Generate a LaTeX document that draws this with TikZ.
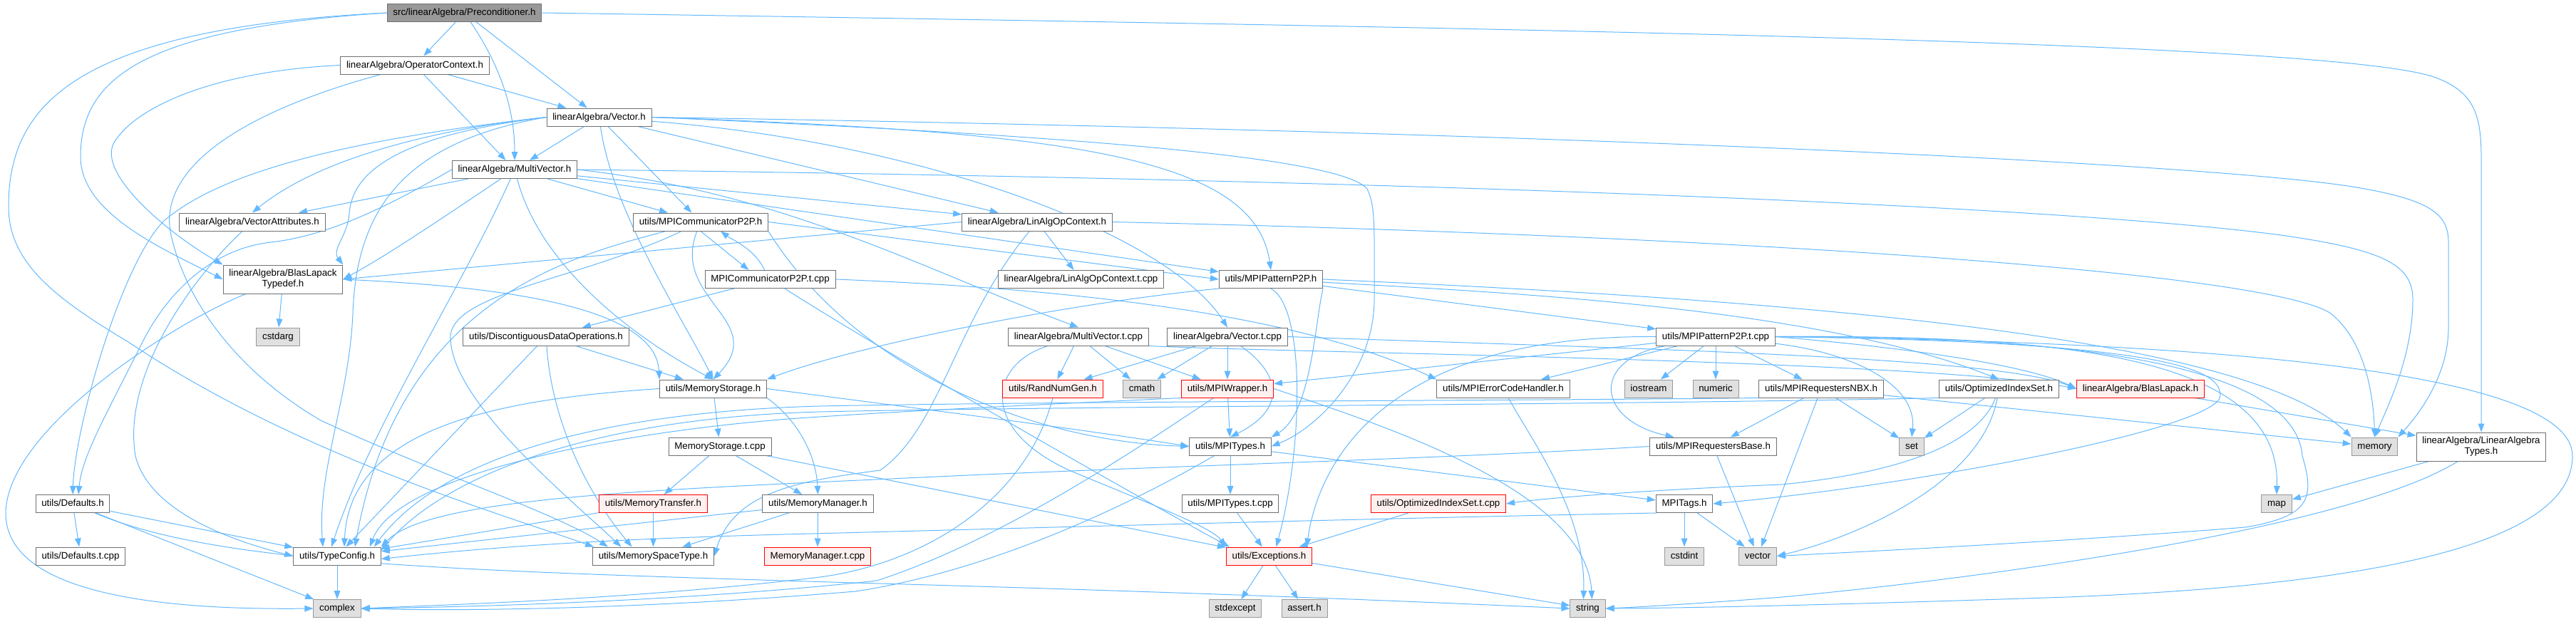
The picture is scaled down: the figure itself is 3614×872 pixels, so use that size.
\documentclass[tikz,border=0pt]{standalone}
\usepackage{fontspec}
\setmainfont{Liberation Sans}
\usetikzlibrary{arrows.meta,calc}
\pgfdeclarelayer{back}
\pgfsetlayers{back,main}
\definecolor{inclBlue}{RGB}{99,184,255}
\definecolor{boxFrame}{RGB}{112,112,112}
\definecolor{rootFill}{RGB}{153,153,153}
\definecolor{sysFill}{RGB}{224,224,224}
\definecolor{sysFrame}{RGB}{153,153,153}
\definecolor{cutFill}{RGB}{255,240,240}
\definecolor{cutFrame}{RGB}{255,0,0}

\begin{document}
\begin{tikzpicture}[x=0.75pt,y=-0.75pt,
  boxBase/.style={draw=boxFrame,fill=white,line width=0.75pt,inner xsep=6.2pt,inner ysep=0pt,font=\fontsize{10}{11.3}\selectfont},
  fileBox/.style={boxBase,minimum height=18.75pt,text height=7.4pt,text depth=2.1pt},
  twoLine/.style={boxBase,align=center,minimum height=30pt},
  rootBox/.style={fileBox,fill=rootFill},
  sysBox/.style={fileBox,fill=sysFill,draw=sysFrame},
  cutBox/.style={fileBox,fill=cutFill,draw=cutFrame},
  incl/.style={draw=inclBlue,line width=0.75pt,-{Triangle[length=9pt,width=6.5pt]}}]
\useasboundingbox (0,0) rectangle (3614,872);
\node[rootBox] (precond) at (651.5,18) {src/linearAlgebra/Preconditioner.h};
\node[fileBox] (opCtx) at (582,91.5) {linearAlgebra/OperatorContext.h};
\node[fileBox] (vec) at (840.5,164.5) {linearAlgebra/Vector.h};
\node[fileBox] (mvec) at (722,238) {linearAlgebra/MultiVector.h};
\node[fileBox] (vecAttr) at (354,311.5) {linearAlgebra/VectorAttributes.h};
\node[twoLine] (blasTypedef) at (397,392) {linearAlgebra/BlasLapack\\Typedef.h};
\node[fileBox] (commP2P) at (983,311.5) {utils/MPICommunicatorP2P.h};
\node[fileBox] (commP2Pt) at (1080.5,392) {MPICommunicatorP2P.t.cpp};
\node[fileBox] (linOpCtx) at (1455,311.5) {linearAlgebra/LinAlgOpContext.h};
\node[fileBox] (linOpCtxT) at (1516.5,392) {linearAlgebra/LinAlgOpContext.t.cpp};
\node[fileBox] (patP2P) at (1783,392) {utils/MPIPatternP2P.h};
\node[sysBox] (cstdarg) at (390,472.5) {cstdarg};
\node[fileBox] (discOps) at (766,472.5) {utils/DiscontiguousDataOperations.h};
\node[fileBox] (mvecT) at (1513,472.5) {linearAlgebra/MultiVector.t.cpp};
\node[fileBox] (vecT) at (1722,472.5) {linearAlgebra/Vector.t.cpp};
\node[fileBox] (patP2Pt) at (2407,472.5) {utils/MPIPatternP2P.t.cpp};
\node[fileBox] (memStore) at (1000.5,545.5) {utils/MemoryStorage.h};
\node[cutBox] (randGen) at (1477,545.5) {utils/RandNumGen.h};
\node[sysBox] (cmath) at (1602,545.5) {cmath};
\node[cutBox] (mpiWrap) at (1722,545.5) {utils/MPIWrapper.h};
\node[fileBox] (errHandler) at (2109,545.5) {utils/MPIErrorCodeHandler.h};
\node[sysBox] (iostream) at (2313,545.5) {iostream};
\node[sysBox] (numeric) at (2407,545.5) {numeric};
\node[fileBox] (reqNBX) at (2555,545.5) {utils/MPIRequestersNBX.h};
\node[fileBox] (optSet) at (2804.5,545.5) {utils/OptimizedIndexSet.h};
\node[cutBox] (blasLapack) at (3003,545.5) {linearAlgebra/BlasLapack.h};
\node[sysBox] (memory) at (3331.5,626.5) {memory};
\node[twoLine] (laTypes) at (3481,627) {linearAlgebra/LinearAlgebra\\Types.h};
\node[fileBox] (memStoreT) at (1010,626.5) {MemoryStorage.t.cpp};
\node[fileBox] (mpiTypes) at (1726,626.5) {utils/MPITypes.h};
\node[fileBox] (reqBase) at (2403.5,626.5) {utils/MPIRequestersBase.h};
\node[sysBox] (set) at (2682,626.5) {set};
\node[sysBox] (map) at (3194,707) {map};
\node[fileBox] (defaults) at (102,707) {utils/Defaults.h};
\node[cutBox] (memTransfer) at (916.5,707) {utils/MemoryTransfer.h};
\node[fileBox] (memManager) at (1147.5,707) {utils/MemoryManager.h};
\node[fileBox] (mpiTypesT) at (1726,707) {utils/MPITypes.t.cpp};
\node[cutBox] (optSetT) at (2018,707) {utils/OptimizedIndexSet.t.cpp};
\node[fileBox] (mpiTags) at (2363,707) {MPITags.h};
\node[fileBox] (defaultsT) at (113,780.5) {utils/Defaults.t.cpp};
\node[fileBox] (typeConfig) at (473,780.5) {utils/TypeConfig.h};
\node[fileBox] (memSpace) at (916.5,780.5) {utils/MemorySpaceType.h};
\node[cutBox] (memManagerT) at (1147,780.5) {MemoryManager.t.cpp};
\node[cutBox] (exceptions) at (1780.5,780.5) {utils/Exceptions.h};
\node[sysBox] (cstdint) at (2363,780.5) {cstdint};
\node[sysBox] (vector) at (2466,780.5) {vector};
\node[sysBox] (complex) at (473,854) {complex};
\node[sysBox] (string) at (2227.5,854) {string};
\node[sysBox] (stdexcept) at (1733,854) {stdexcept};
\node[sysBox] (assertH) at (1830,854) {assert.h};
\begin{pgfonlayer}{back}
\draw[incl] (precond) -- (opCtx);
\draw[incl] (precond) .. controls (700,90) and (722,150) .. (mvec);
\draw[incl] (precond) -- (vec);
\draw[incl] (precond.west) .. controls (200,40) and (113,110) .. (113,220) .. controls (113,300) and (230,350) .. (blasTypedef.west);
\draw[incl] (precond.west) .. controls (100,40) and (12,150) .. (12,290) .. controls (12,370) and (80,420) .. (180,480) .. controls (420,640) and (700,720) .. ($(memSpace.north west)+(2,0)$);
\draw[incl] (precond.east) .. controls (2200,40) and (3300,60) .. (3420,110) .. controls (3470,130) and (3481,160) .. (3481,220) -- (laTypes.north);
\draw[incl] (opCtx) -- (vec);
\draw[incl] (opCtx) -- (mvec);
\draw[incl] (opCtx.west) .. controls (300,100) and (190,150) .. (160,200) .. controls (135,245) and (240,330) .. (blasTypedef.north west);
\draw[incl] (opCtx) .. controls (330,160) and (220,240) .. (240,330) .. controls (260,420) and (330,520) .. (450,590) .. controls (600,660) and (780,720) .. ($(memSpace.north west)+(22,0)$);
\draw[incl] (vec) -- (mvec);
\draw[incl] (vec) -- (commP2P);
\draw[incl] (vec) -- (linOpCtx);
\draw[incl] (vec.east) .. controls (1500,185) and (1760,220) .. (patP2P.north);
\draw[incl] (vec.east) .. controls (2200,185) and (3100,230) .. (3300,262) .. controls (3410,280) and (3435,300) .. (3435,340) -- (3435,460) .. controls (3435,530) and (3390,585) .. (memory.north east);
\draw[incl] (vec.east) .. controls (1500,190) and (1880,220) .. (1918,265) .. controls (1930,290) and (1928,320) .. (1928,420) .. controls (1928,520) and (1850,600) .. (mpiTypes.east);
\draw[incl] (vec) .. controls (1300,200) and (1640,330) .. (vecT.north);
\draw[incl] (vec) .. controls (860,300) and (960,450) .. (memStore.north);
\draw[incl] (vec.west) .. controls (620,180) and (450,220) .. (vecAttr.north);
\draw[incl] (vec.west) .. controls (560,190) and (494,240) .. (490,300) .. controls (488,330) and (465,350) .. (blasTypedef.north east);
\draw[incl] (vec.west) .. controls (560,200) and (500,300) .. (495,440) .. controls (490,560) and (445,660) .. ($(typeConfig.north)+(-20,0)$);
\draw[incl] (vec.west) .. controls (450,200) and (300,250) .. (230,310) .. controls (170,370) and (105,600) .. (defaults.north);
\draw[incl] (mvec) -- (vecAttr);
\draw[incl] (mvec) .. controls (600,320) and (540,360) .. (blasTypedef.east);
\draw[incl] (mvec) -- (linOpCtx);
\draw[incl] (mvec) -- (commP2P);
\draw[incl] (mvec) -- (patP2P);
\draw[incl] (mvec.east) .. controls (2000,252) and (2900,290) .. (3200,330) .. controls (3340,350) and (3385,370) .. (3385,420) .. controls (3385,500) and (3350,570) .. (memory.north);
\draw[incl] (mvec.east) .. controls (1100,270) and (1300,380) .. (mvecT.north);
\draw[incl] (mvec) .. controls (650,400) and (520,600) .. ($(typeConfig.north)+(-8,0)$);
\draw[incl] (mvec.west) .. controls (560,280) and (470,330) .. (380,340) .. controls (290,350) and (230,420) .. (200,480) .. controls (150,580) and (115,640) .. ($(defaults.north)+(8,0)$);
\draw[incl] (mvec) .. controls (760,380) and (900,480) .. (memStore.north);
\draw[incl] (vecAttr) .. controls (280,380) and (170,520) .. (190,640) .. controls (210,720) and (330,760) .. (typeConfig.west);
\draw[incl] (blasTypedef) -- (cstdarg);
\draw[incl] (blasTypedef) .. controls (250,450) and (10,600) .. (8,720) .. controls (8,840) and (250,856) .. (complex.west);
\draw[incl] (blasTypedef.east) .. controls (650,400) and (920,420) .. (memStore.north west);
\draw[incl] (linOpCtx.west) -- (blasTypedef.east);
\draw[incl] (linOpCtx) -- (linOpCtxT);
\draw[incl] (linOpCtx.east) .. controls (2400,330) and (3180,380) .. (3270,440) .. controls (3320,480) and (3330,560) .. (memory.north);
\draw[incl] (linOpCtx) .. controls (1340,450) and (1320,600) .. (1235,660) .. controls (1120,675) and (1030,690) .. (memSpace.east);
\draw[incl] (commP2P.south) -- ($(commP2Pt.north)+(-30,0)$);
\draw[incl] ($(commP2Pt.north)+(-8,0)$) .. controls (1060,350) and (1025,335) .. ($(commP2P.south)+(28,0)$);
\draw[incl] (commP2P.east) -- (patP2P.west);
\draw[incl] (commP2P) .. controls (940,420) and (1080,450) .. (memStore.north);
\draw[incl] (commP2P) .. controls (800,360) and (560,420) .. ($(typeConfig.north)+(25,0)$);
\draw[incl] (commP2P) .. controls (820,390) and (640,410) .. (632,470) .. controls (628,560) and (800,700) .. ($(memSpace.north)+(-45,0)$);
\draw[incl] (commP2P.south east) .. controls (1200,520) and (1450,620) .. (mpiTypes.west);
\draw[incl] (commP2Pt) -- (discOps);
\draw[incl] (commP2Pt) .. controls (1250,500) and (1600,700) .. ($(exceptions.north west)+(5,0)$);
\draw[incl] (commP2Pt.east) .. controls (1500,405) and (1820,440) .. (errHandler.north west);
\draw[incl] (patP2P) -- (patP2Pt);
\draw[incl] (patP2P.south west) .. controls (1500,425) and (1200,485) .. (memStore.north east);
\draw[incl] (patP2P.south) .. controls (1830,430) and (1830,620) .. ($(exceptions.north)+(10,0)$);
\draw[incl] (patP2P.south east) .. controls (1845,450) and (1840,580) .. (mpiTypes.north east);
\draw[incl] (patP2P.east) .. controls (2500,420) and (3150,470) .. (memory.north west);
\draw[incl] (patP2P) .. controls (2100,410) and (2550,430) .. (optSet.north);
\draw[incl] (patP2Pt) -- (mpiWrap);
\draw[incl] (patP2Pt.west) .. controls (1940,470) and (1850,650) .. ($(exceptions.north east)+(-8,0)$);
\draw[incl] (patP2Pt) -- (errHandler);
\draw[incl] (patP2Pt) .. controls (2230,505) and (2240,590) .. ($(reqBase.north)+(-55,0)$);
\draw[incl] (patP2Pt) -- (iostream);
\draw[incl] (patP2Pt) -- (numeric);
\draw[incl] (patP2Pt) -- (reqNBX);
\draw[incl] (patP2Pt) .. controls (2600,495) and (2690,540) .. (set.north);
\draw[incl] (patP2Pt.east) .. controls (2700,490) and (2850,515) .. (blasLapack.west);
\draw[incl] (patP2Pt.east) .. controls (2900,470) and (3200,500) .. (map.north);
\draw[incl] (patP2Pt.east) .. controls (2900,470) and (3220,510) .. (3230,640) .. controls (3248,700) and (3240,725) .. (3150,740) .. controls (2900,760) and (2600,775) .. (vector.east);
\draw[incl] (patP2Pt.east) .. controls (3100,480) and (3609,520) .. (3609,640) .. controls (3609,770) and (3300,822) .. (2900,838) .. controls (2600,848) and (2400,853) .. (string.east);
\draw[incl] (patP2Pt.east) .. controls (3050,480) and (3115,520) .. (3115,555) .. controls (3115,600) and (2700,680) .. (mpiTags.east);
\draw[incl] (reqNBX) -- (reqBase);
\draw[incl] (reqNBX) -- (vector);
\draw[incl] (reqNBX) -- (set);
\draw[incl] (reqNBX) -- (memory);
\draw[incl] (reqNBX.south west) .. controls (2200,562) and (1500,563) .. (1150,570) .. controls (850,578) and (620,640) .. ($(typeConfig.north east)+(-10,0)$);
\draw[incl] (optSet.south west) .. controls (2300,568) and (1500,570) .. (1150,578) .. controls (850,586) and (630,660) .. ($(typeConfig.east)+(0,-8)$);
\draw[incl] (optSet) -- (set);
\draw[incl] (optSet) .. controls (2780,680) and (2600,755) .. (vector.east);
\draw[incl] (optSet) .. controls (2780,610) and (2700,660) .. (2500,680) .. controls (2300,688) and (2160,700) .. (optSetT.east);
\draw[incl] (optSetT) -- (exceptions);
\draw[incl] (reqBase) -- (vector);
\draw[incl] (reqBase.west) .. controls (2000,645) and (1600,655) .. (1250,672) .. controls (900,688) and (600,700) .. (typeConfig.north east);
\draw[incl] (mpiTags) -- (cstdint);
\draw[incl] (mpiTags) -- (vector);
\draw[incl] (mpiTags.south west) .. controls (1900,728) and (1300,745) .. (1100,750) .. controls (800,758) and (650,772) .. ($(typeConfig.east)+(0,4)$);
\draw[incl] (mpiTypes) -- (mpiTypesT);
\draw[incl] (mpiTypes) -- (mpiTags);
\draw[incl] (mpiTypes) .. controls (1600,700) and (1400,800) .. (1200,830) .. controls (900,855) and (650,858) .. (complex.east);
\draw[incl] (mpiTypesT) -- (exceptions);
\draw[incl] (mpiWrap) -- (mpiTypes);
\draw[incl] (mpiWrap.south west) .. controls (1500,566) and (1300,575) .. (1150,585) .. controls (900,600) and (560,660) .. ($(typeConfig.north east)+(-16,0)$);
\draw[incl] (mpiWrap) .. controls (1580,640) and (1400,760) .. (1230,815) .. controls (950,845) and (650,852) .. (complex.east);
\draw[incl] (mpiWrap.east) .. controls (1950,600) and (2225,690) .. ($(string.north)+(6,0)$);
\draw[incl] (randGen.south) .. controls (1440,700) and (1300,790) .. (1150,810) .. controls (900,840) and (650,848) .. (complex.east);
\draw[incl] (errHandler) .. controls (2150,620) and (2225,720) .. ($(string.north)+(-6,0)$);
\draw[incl] (exceptions) -- (stdexcept);
\draw[incl] (exceptions) -- (assertH);
\draw[incl] (exceptions) -- (string);
\draw[incl] (blasLapack) -- (laTypes);
\draw[incl] (laTypes) -- (map);
\draw[incl] (laTypes) .. controls (3300,740) and (2800,810) .. (2500,838) .. controls (2400,846) and (2300,852) .. (string.east);
\draw[incl] (vecT) -- (randGen);
\draw[incl] (vecT) -- (cmath);
\draw[incl] (vecT) -- (mpiWrap);
\draw[incl] (vecT) .. controls (1790,520) and (1812,570) .. (mpiTypes.north);
\draw[incl] (vecT.east) .. controls (2300,490) and (2800,500) .. (blasLapack.west);
\draw[incl] (mvecT) -- (randGen);
\draw[incl] (mvecT) -- (cmath);
\draw[incl] (mvecT) -- (mpiWrap);
\draw[incl] (mvecT) .. controls (1390,510) and (1370,600) .. (1500,660) .. controls (1620,710) and (1700,740) .. (exceptions.north west);
\draw[incl] (mvecT.south east) .. controls (1800,495) and (2700,505) .. (blasLapack.west);
\draw[incl] (memStore) -- (memStoreT);
\draw[incl] (memStore.south east) .. controls (1120,590) and (1145,640) .. (memManager.north);
\draw[incl] (memStore.west) .. controls (700,560) and (490,600) .. ($(typeConfig.north)+(10,0)$);
\draw[incl] (memStore.east) .. controls (1300,575) and (1500,600) .. (mpiTypes.west);
\draw[incl] (memStoreT) -- (memTransfer);
\draw[incl] (memStoreT) -- (memManager);
\draw[incl] (memStoreT) -- (exceptions);
\draw[incl] (memTransfer) -- (memSpace);
\draw[incl] (memTransfer) -- (typeConfig);
\draw[incl] (memManager) -- (memManagerT);
\draw[incl] (memManager) -- (memSpace);
\draw[incl] (memManager) -- (typeConfig);
\draw[incl] (discOps) -- (typeConfig);
\draw[incl] (discOps) -- (memStore);
\draw[incl] (discOps) .. controls (775,600) and (830,700) .. ($(memSpace.north)+(-30,0)$);
\draw[incl] (defaults) -- (defaultsT);
\draw[incl] (defaults) -- (typeConfig);
\draw[incl] (defaults) -- (complex);
\draw[incl] (defaults) .. controls (300,790) and (600,800) .. (1200,818) .. controls (1700,832) and (2000,845) .. (string.west);
\draw[incl] (typeConfig) -- (complex);
\end{pgfonlayer}
\end{tikzpicture}
\end{document}
